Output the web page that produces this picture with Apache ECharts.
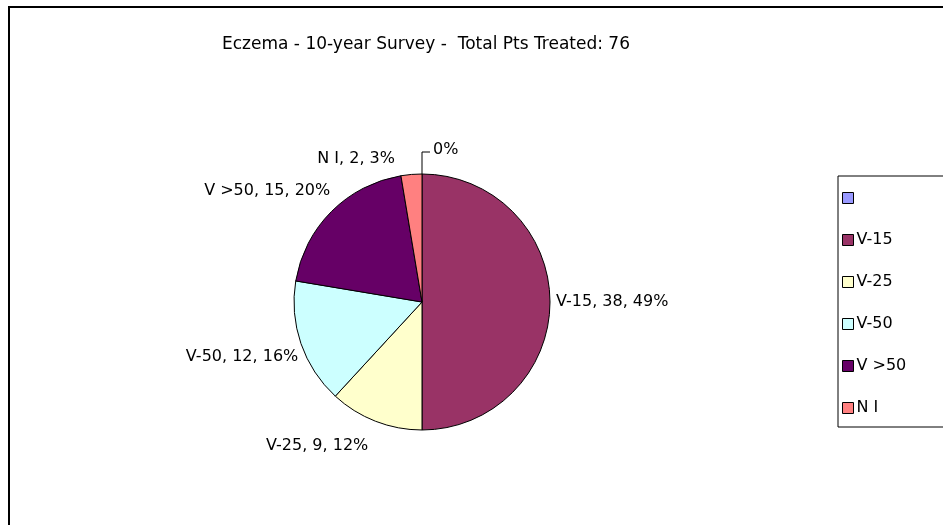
<!DOCTYPE html>
<html>
<head>
<meta charset="utf-8">
<script src="https://cdn.jsdelivr.net/npm/echarts@6/dist/echarts.min.js"></script>
<style>
  html, body { margin: 0; padding: 0; background: #fff; }
  #main { width: 943px; height: 525px; }
</style>
</head>
<body>
<div id="main"></div>
<script>
// chart data
var titleText = 'Eczema - 10-year Survey -  Total Pts Treated: 76'
var names = [' ', 'V-15', 'V-25', 'V-50', 'V >50', 'N I']
var counts = [0, 38, 9, 12, 15, 2]
var percents = [0, 49, 12, 16, 20, 3] // as printed on the labels
var colors = ['#9999FF', '#993366', '#FFFFCC', '#CCFFFF', '#660066', '#FF8080']

// label nudges (px) so the labels sit where Excel put them
var labelNudge = [[-2, -2], [-5, 0], [0, 19], [8, 11], [8, -16], [-11, -10]]

var font = 'DejaVu Sans'

var pieData = names.map(function(n, i) {
  var item = { name: n, value: counts[i] }
  if (counts[i] === 0) {
    // zero slice gets a leader line like in the original
    item.labelLine = { show: true, length: 22, length2: 8, lineStyle: { color: '#000', width: 1 } }
  }
  return item
})

var myChart = echarts.init(document.getElementById('main'), null, { renderer: 'canvas' })

var option = {
  animation: false,
  backgroundColor: '#fff',
  color: colors,
  title: {
    text: titleText,
    left: 421,
    top: 31,
    textAlign: 'center',
    textStyle: { fontFamily: font, fontSize: 17, fontWeight: 'normal', color: '#000' }
  },
  legend: {
    orient: 'vertical',
    left: 838,
    top: 176,
    data: names,
    icon: 'rect',
    itemWidth: 11,
    itemHeight: 11,
    itemGap: 26,
    padding: [14, 60, 11, 4],
    borderColor: '#000',
    borderWidth: 1,
    itemStyle: { borderColor: '#000', borderWidth: 1 },
    textStyle: { fontFamily: font, fontSize: 16, color: '#000', padding: [0, 0, 0, -2] },
    selectedMode: false
  },
  graphic: [{
    type: 'rect',
    shape: { x: 9, y: 7, width: 1000, height: 600 },
    style: { fill: 'none', stroke: '#000', lineWidth: 2 },
    silent: true
  }],
  series: [{
    type: 'pie',
    center: [422, 302],
    radius: 128,
    startAngle: 90,
    clockwise: true,
    minAngle: 0.01,
    avoidLabelOverlap: false,
    itemStyle: { borderColor: '#000', borderWidth: 1 },
    emphasis: { disabled: true },
    label: {
      show: true,
      position: 'outside',
      fontFamily: font,
      fontSize: 16,
      color: '#000',
      formatter: function(p) {
        var pct = percents[p.dataIndex] + '%'
        if (!p.name.trim()) return pct
        return p.name + ', ' + p.value + ', ' + pct
      }
    },
    labelLine: { show: false, length: 6, length2: 0 },
    labelLayout: function(params) {
      var d = labelNudge[params.dataIndex]
      return { dx: d[0], dy: d[1] }
    },
    data: pieData
  }]
}

myChart.setOption(option)
</script>
</body>
</html>
